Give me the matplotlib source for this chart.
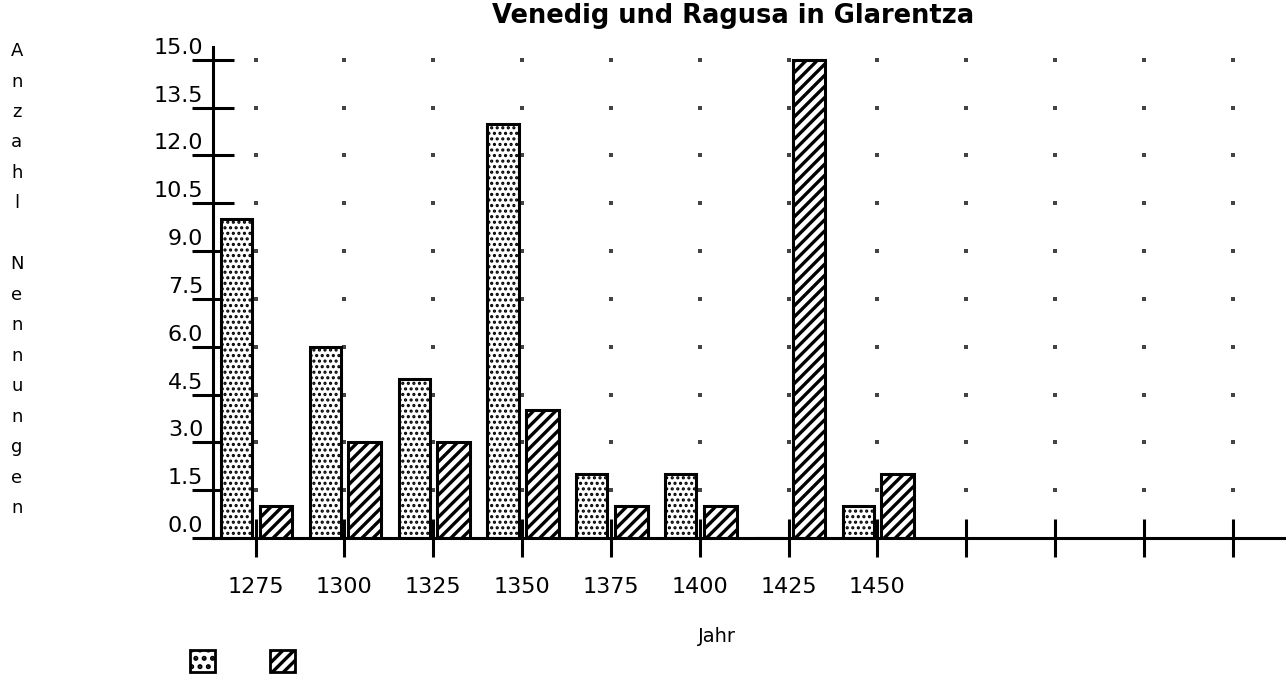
import matplotlib
matplotlib.use('Agg')
import matplotlib.pyplot as plt
import matplotlib.transforms as mtransforms
from matplotlib.patches import Patch
import numpy as np

# data
years = ['1275', '1300', '1325', '1350', '1375', '1400', '1425', '1450', '', '', '', '']
venedig = [10, 6, 5, 13, 2, 2, 0, 1]
ragusa = [1, 3, 3, 4, 1, 1, 15, 2]
yticks = [0.0, 1.5, 3.0, 4.5, 6.0, 7.5, 9.0, 10.5, 12.0, 13.5, 15.0]
title = 'Venedig und Ragusa in Glarentza'
ylabel_letters = list('Anzahl') + [' '] + list('Nennungen')

plt.rcParams['font.family'] = 'DejaVu Sans'

DOT_HATCH = '...'
LINE_HATCH = '///'

fig = plt.figure(figsize=(12.86, 6.79), dpi=100)
ax = fig.add_axes([0.1656, 0.2077, 0.8344, 0.7231])

x = np.arange(len(years))
n = len(venedig)
with plt.rc_context({'hatch.linewidth': 1.5}):
    ax.bar(x[:n] - 0.39, venedig, width=0.35, align='edge', color='white',
           edgecolor='black', linewidth=2.2, hatch=DOT_HATCH, zorder=2)
with plt.rc_context({'hatch.linewidth': 2.4}):
    ax.bar(x[:n] + 0.045, ragusa, width=0.37, align='edge', color='white',
           edgecolor='black', linewidth=2.2, hatch=LINE_HATCH, zorder=2)

# dotted grid: one dot per category / y tick
gx, gy = np.meshgrid(x, yticks[1:])
ax.scatter(gx.ravel(), gy.ravel(), s=5, marker='s', color='#444444',
           linewidths=0, zorder=1)

ax.set_xlim(-0.48, 11.6)
ax.set_ylim(0, 15.4)
ax.set_xticks(x)
ax.set_xticklabels(years, fontsize=16)
ax.set_yticks(yticks)
ax.set_yticklabels([f'{v:.1f}' for v in yticks], fontsize=16)

for s in ['top', 'right']:
    ax.spines[s].set_visible(False)
for s in ['left', 'bottom']:
    ax.spines[s].set_linewidth(2.2)
    ax.spines[s].set_zorder(2.6)

ax.tick_params(axis='y', direction='inout', length=30, width=2.2, pad=-8)
ax.tick_params(axis='x', direction='inout', length=28, width=2.2, pad=14)

# y tick labels sit a little above their tick
off = mtransforms.ScaledTranslation(0, 0.14, fig.dpi_scale_trans)
for lab in ax.get_yticklabels():
    lab.set_transform(lab.get_transform() + off)
    lab.set_horizontalalignment('right')

fig.text(0.570, 0.977, title, fontsize=18.5, fontweight='heavy',
         ha='center', va='center')
ax.set_xlabel('Jahr', fontsize=14, labelpad=22, x=0.47)

fig.text(0.013, 0.938, '\n'.join(ylabel_letters), fontsize=13, va='top',
         ha='center', linespacing=1.89)

# legend: two pattern squares without text
with plt.rc_context({'hatch.linewidth': 2.4}):
    handles = [Patch(facecolor='white', edgecolor='black', hatch='..', linewidth=2),
               Patch(facecolor='white', edgecolor='black', hatch=LINE_HATCH, linewidth=2)]
    fig.legend(handles, ['', ''], loc='upper left',
               bbox_to_anchor=(0.134, 0.069), ncol=2, frameon=False, fontsize=18,
               handlelength=1.0, handleheight=1.0, columnspacing=2.2,
               handletextpad=0.0, borderpad=0.2)

fig.savefig('out.png', dpi=100)
